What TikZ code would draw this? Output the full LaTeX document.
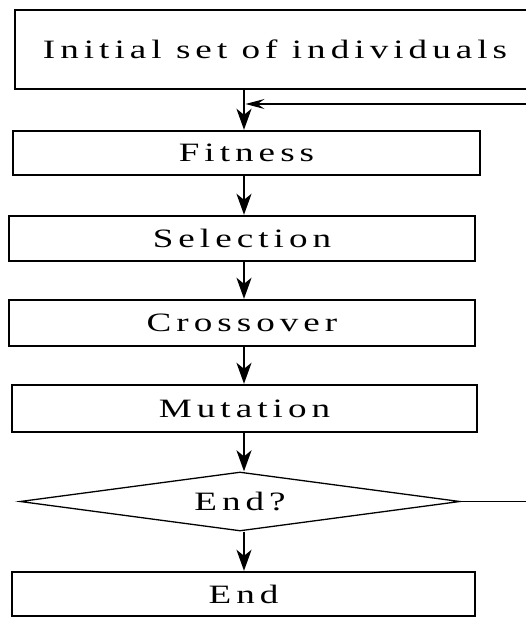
\documentclass[tikz,border=0pt]{standalone}
\usepackage{fontspec}
\setmainfont{Liberation Serif}[FakeStretch=1.4,LetterSpace=19]
\usetikzlibrary{shapes.geometric,arrows.meta}
\begin{document}
\begin{tikzpicture}[x=1pt,y=-1pt,
  stepbox/.style={draw=black,line width=2.4pt,rectangle,inner sep=0pt,
    font=\fontsize{26.5}{30}\selectfont},
  testbox/.style={draw=black,line width=1.3pt,diamond,shape aspect=7.5,inner sep=0pt,
    font=\fontsize{26.5}{30}\selectfont},
  flow/.style={line width=2pt,-{Stealth[length=21pt,width=15pt,inset=6pt]}},
  loopline/.style={line width=1.3pt},
  looparrow/.style={line width=1.3pt,-{Stealth[length=19pt,width=10pt,inset=7pt]}}]
\useasboundingbox (0,0) rectangle (525,617);

% main column of the flow chart
\coordinate (col) at (244,0);

\node[stepbox,minimum width=520pt,minimum height=79pt] (init) at (275,49.5) {Initial set of individuals};
\node[stepbox,minimum width=467pt,minimum height=44pt] (fit) at (246.5,153) {Fitness};
\node[stepbox,minimum width=466pt,minimum height=45pt] (sel) at (242,238.5) {Selection};
\node[stepbox,minimum width=466pt,minimum height=46pt] (cro) at (242,323) {Crossover};
\node[stepbox,minimum width=465pt,minimum height=47pt] (mut) at (244.5,408.5) {Mutation};
\node[testbox,minimum width=440pt,minimum height=59pt] (dia) at (240,501.5) {End?};
\node[stepbox,minimum width=463pt,minimum height=44pt] (endb) at (243.5,594) {End};

% straight-down steps
\draw[flow] (init.south -| col) -- (fit.north -| col);
\draw[flow] (fit.south -| col) -- (sel.north -| col);
\draw[flow] (sel.south -| col) -- (cro.north -| col);
\draw[flow] (cro.south -| col) -- (mut.north -| col);
\draw[flow] (mut.south -| col) -- (dia.north -| col);
\draw[flow] (dia.south -| col) -- (endb.north -| col);

% loop back from the test to the fitness step
\coordinate (back) at (245.5,104);
\coordinate (rightA) at (545,501.5);
\coordinate (rightB) at (545,104);
\draw[loopline] (dia.east) -- (rightA) -- (rightB);
\draw[looparrow] (rightB) -- (back);
\end{tikzpicture}
\end{document}
